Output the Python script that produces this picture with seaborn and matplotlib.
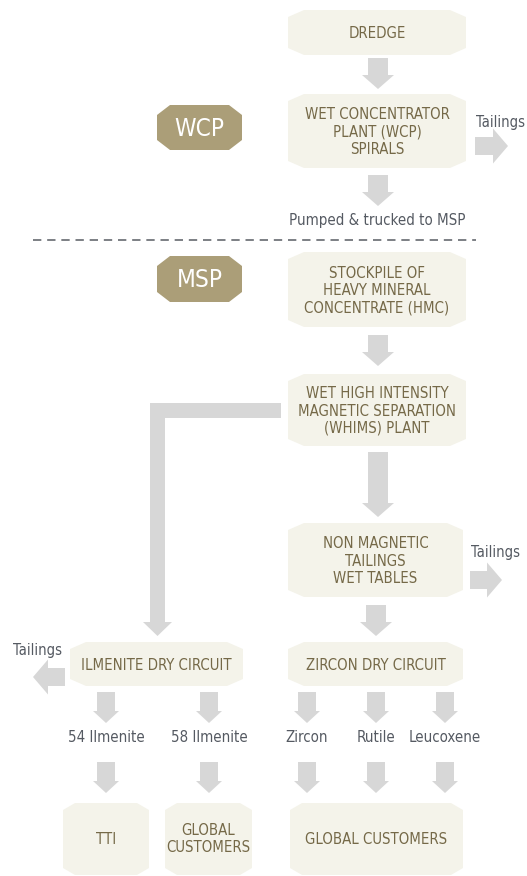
import matplotlib
matplotlib.use("Agg")
import matplotlib.pyplot as plt
import seaborn as sns
from matplotlib.patches import Polygon

# contenido del diagrama
process_steps = ["DREDGE",
                 "WET CONCENTRATOR\nPLANT (WCP)\nSPIRALS",
                 "STOCKPILE OF\nHEAVY MINERAL\nCONCENTRATE (HMC)",
                 "WET HIGH INTENSITY\nMAGNETIC SEPARATION\n(WHIMS) PLANT",
                 "NON MAGNETIC\nTAILINGS\nWET TABLES",
                 "ILMENITE DRY CIRCUIT",
                 "ZIRCON DRY CIRCUIT"]
products = ["54 Ilmenite", "58 Ilmenite", "Zircon", "Rutile", "Leucoxene"]
customers = ["TTI", "GLOBAL\nCUSTOMERS", "GLOBAL CUSTOMERS"]
plant_badges = ["WCP", "MSP"]
transfer_note = "Pumped & trucked to MSP"
tailings_label = "Tailings"

# layout (pixeles, y hacia abajo)
step_boxes = [(288, 466, 10, 55), (288, 466, 94, 168), (288, 466, 252, 327),
              (288, 466, 374, 446), (288, 463, 523, 597), (70, 243, 642, 686),
              (288, 463, 642, 686)]
customer_boxes = [(63, 149, 803, 875), (165, 252, 803, 875), (290, 463, 803, 875)]
badge_boxes = [(157, 242, 105, 150), (157, 242, 256, 302)]
product_x = [106, 209, 307, 376, 445]

BOX = "#f4f3ea"
BOX_TXT = "#756948"
BADGE = "#ab9e78"
ARROW = "#d7d7d7"
GREY_TXT = "#555a62"

sns.set_theme(style="white")
plt.rcParams['font.family'] = ['DejaVu Sans']
FONT = dict(family='DejaVu Sans', stretch='condensed')


def chamfer(ax, x0, x1, y0, y1, dx, dy, color):
    pts = [(x0 + dx, y0), (x1 - dx, y0), (x1, y0 + dy), (x1, y1 - dy),
           (x1 - dx, y1), (x0 + dx, y1), (x0, y1 - dy), (x0, y0 + dy)]
    ax.add_patch(Polygon(pts, closed=True, fc=color, ec='none'))


def down_arrow(ax, x, y0, y1, sw=20, hw=32, hl=14):
    pts = [(x - sw / 2, y0), (x + sw / 2, y0), (x + sw / 2, y1 - hl),
           (x + hw / 2, y1 - hl), (x, y1), (x - hw / 2, y1 - hl),
           (x - sw / 2, y1 - hl)]
    ax.add_patch(Polygon(pts, closed=True, fc=ARROW, ec='none'))


def side_arrow(ax, x0, x1, y, sh=18, hh=35, hl=15):
    d = 1 if x1 > x0 else -1
    xh = x1 - d * hl
    pts = [(x0, y - sh / 2), (xh, y - sh / 2), (xh, y - hh / 2), (x1, y),
           (xh, y + hh / 2), (xh, y + sh / 2), (x0, y + sh / 2)]
    ax.add_patch(Polygon(pts, closed=True, fc=ARROW, ec='none'))


fig = plt.figure(figsize=(5.27, 8.76), dpi=100)
ax = fig.add_axes([0, 0, 1, 1])
ax.set_xlim(0, 527)
ax.set_ylim(876, 0)
ax.axis('off')

# cajas del proceso
for label, (x0, x1, y0, y1) in zip(process_steps, step_boxes):
    chamfer(ax, x0, x1, y0, y1, 16, 7, BOX)
    ax.text((x0 + x1) / 2, (y0 + y1) / 2 + 1, label, ha='center', va='center',
            color=BOX_TXT, fontsize=10.7, linespacing=1.18, **FONT)

for label, (x0, x1, y0, y1) in zip(customers, customer_boxes):
    chamfer(ax, x0, x1, y0, y1, 12, 7, BOX)
    ax.text((x0 + x1) / 2, (y0 + y1) / 2, label, ha='center', va='center',
            color=BOX_TXT, fontsize=10.7, linespacing=1.1, **FONT)

for label, (x0, x1, y0, y1) in zip(plant_badges, badge_boxes):
    chamfer(ax, x0, x1, y0, y1, 13, 10, BADGE)
    ax.text((x0 + x1) / 2, (y0 + y1) / 2 + 1, label, ha='center', va='center',
            color='white', fontsize=17.5, **FONT)

# flechas principales
down_arrow(ax, 378, 58, 89)
down_arrow(ax, 378, 175, 206)
down_arrow(ax, 378, 335, 366)
down_arrow(ax, 378, 452, 517)
down_arrow(ax, 376, 605, 636)

# conexion en L hacia el circuito de ilmenita
ax.add_patch(Polygon([(281, 403), (150, 403), (150, 622), (143, 622), (157.5, 636),
                      (172, 622), (165, 622), (165, 418), (281, 418)],
                     closed=True, fc=ARROW, ec='none'))

# colas
side_arrow(ax, 475, 508, 146)
ax.text(476, 122, tailings_label, ha='left', va='center', color=GREY_TXT, fontsize=10.5, **FONT)
side_arrow(ax, 470, 502, 580)
ax.text(471, 552, tailings_label, ha='left', va='center', color=GREY_TXT, fontsize=10.5, **FONT)
side_arrow(ax, 65, 33, 677)
ax.text(13, 650, tailings_label, ha='left', va='center', color=GREY_TXT, fontsize=10.5, **FONT)

ax.text(377, 220, transfer_note, ha='center', va='center', color=GREY_TXT, fontsize=10.8, **FONT)
ax.plot([33, 476], [240, 240], ls=(0, (5, 3.5)), color='#666a70', lw=1.2)

# productos
for label, x in zip(products, product_x):
    down_arrow(ax, x, 692, 723, sw=18, hw=26, hl=12)
    ax.text(x, 737, label, ha='center', va='center', color=GREY_TXT, fontsize=10.8, **FONT)
    down_arrow(ax, x, 762, 793, sw=18, hw=26, hl=12)

fig.savefig("out.png", dpi=100)
